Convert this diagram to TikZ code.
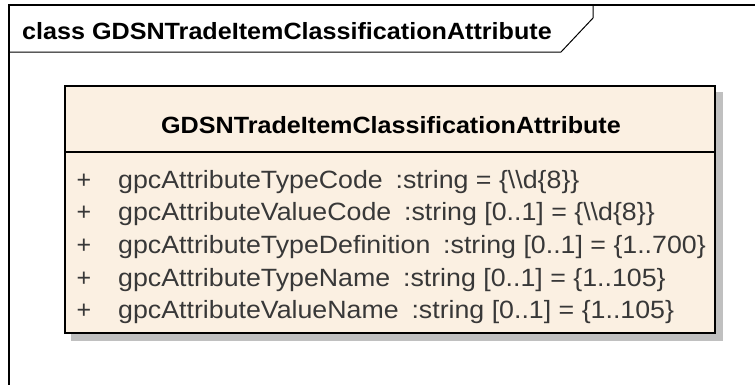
\documentclass[tikz,border=0pt]{standalone}
\usepackage{fontspec}
\setmainfont{Liberation Sans}
\definecolor{boxfill}{HTML}{FBF0E2}
\definecolor{attrtext}{HTML}{383838}
\definecolor{shadowgray}{HTML}{C0C0C0}
\tikzset{
  framestyle/.style={line width=1.3pt, black},
  classbox/.style={draw=black, line width=2.3pt, fill=boxfill, inner sep=0pt, anchor=north west},
  titletext/.style={font=\bfseries\fontsize{23.5}{26}\selectfont, inner sep=0pt},
  plustext/.style={font=\fontsize{25}{27}\selectfont, text=attrtext, inner sep=0pt, anchor=base},
  attrline/.style={font=\fontsize{25}{27}\selectfont, text=attrtext, inner sep=0pt, anchor=base west},
}
\newcommand{\myWideTitle}[1]{\scalebox{1.07}[1]{#1}}
\newcommand{\myWideAttr}[1]{\scalebox{1.07}[1]{#1}}
\newcommand{\myBsl}{\textbackslash}
\begin{document}
\begin{tikzpicture}[x=1pt,y=-1pt]
\useasboundingbox (0,0) rectangle (755,384);
\fill[white] (0,0) rectangle (755,384);
% diagram frame
\coordinate (ftr) at (755,5);
\coordinate (ftl) at (9,5);
\coordinate (fbl) at (9,390);
\coordinate (tabl) at (9,52);
\coordinate (tabb) at (561,52);
\coordinate (tabd) at (593,18);
\coordinate (tabt) at (593,5);
\draw[framestyle] (ftr) -- (ftl) -- (fbl);
\draw[line width=1pt] (tabl) -- (tabb) -- (tabd) -- (tabt);
\node[titletext, anchor=base west] (hdr) at (22,39) {\myWideTitle{class GDSNTradeItemClassificationAttribute}};
% shadow
\fill[shadowgray] (71,92) rectangle (723,340.5);
% class box
\node[classbox, minimum width=650pt, minimum height=247.5pt] (cls) at (64,84.5) {};
\coordinate (sepl) at (64,152);
\coordinate (sepr) at (714,152);
\draw[line width=2.2pt] (sepl) -- (sepr);
\node[titletext, anchor=base] (ctitle) at (391,133) {\myWideTitle{GDSNTradeItemClassificationAttribute}};
% attributes
\node[plustext] (p1) at (84,188) {+};
\node[plustext] (p2) at (84,220.7) {+};
\node[plustext] (p3) at (84,253.4) {+};
\node[plustext] (p4) at (84,286.1) {+};
\node[plustext] (p5) at (84,318.8) {+};
\node[attrline] (a1) at (118,188) {\myWideAttr{gpcAttributeTypeCode\hspace{12pt}:string = \{\myBsl\myBsl d\{8\}\}}};
\node[attrline] (a2) at (118,220.7) {\myWideAttr{gpcAttributeValueCode\hspace{12pt}:string [0..1] = \{\myBsl\myBsl d\{8\}\}}};
\node[attrline] (a3) at (118,253.4) {\myWideAttr{gpcAttributeTypeDefinition\hspace{12pt}:string [0..1] = \{1..700\}}};
\node[attrline] (a4) at (118,286.1) {\myWideAttr{gpcAttributeTypeName\hspace{12pt}:string [0..1] = \{1..105\}}};
\node[attrline] (a5) at (118,318.8) {\myWideAttr{gpcAttributeValueName\hspace{12pt}:string [0..1] = \{1..105\}}};
\end{tikzpicture}
\end{document}
